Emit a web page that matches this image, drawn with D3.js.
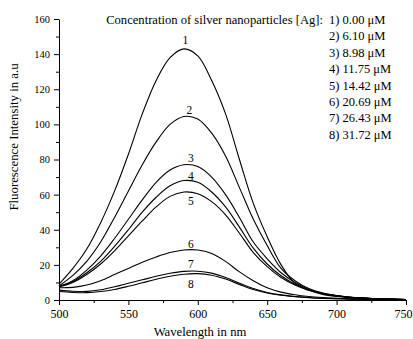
<!DOCTYPE html>
<html lang="en">
<head>
    <meta charset="UTF-8">
    <script src="https://d3js.org/d3.v7.min.js"></script>
    <title>Fluorescence spectra</title>
    <style>
        body { margin: 0; background: #fff; }
        text { font-family: "Liberation Serif", "Times New Roman", serif; fill: #000; }
        .axis path, .axis line { stroke: #000; }
    </style>
</head>
<body>
<div id="chart"></div>
<script>
// Wavelength samples (nm)
const wavelengths = d3.range(500, 751, 10);

// Intensity of each spectrum
const curve1 = [9, 18, 29, 44, 62, 83, 106, 125, 138, 143, 139, 125, 106, 80, 55, 36, 20, 9.5, 5.5, 3.2, 2, 1.3, 0.9, 0.6, 0.4, 0.3];
const curve2 = [8, 14, 22, 33, 47, 62, 77, 90, 100, 104.5, 103, 95, 82, 64, 46, 31, 18, 11, 6.5, 4, 2.5, 1.6, 1.1, 0.7, 0.5, 0.3];
const curve3 = [7.8, 11, 17, 25, 35, 46, 57, 67, 74, 77, 76, 70, 60, 47, 33, 23.5, 15.5, 10, 6, 3.8, 2.5, 1.6, 1.1, 0.7, 0.5, 0.3];
const curve4 = [7.6, 10.5, 15.5, 22, 30.5, 40, 50, 58.5, 65, 68, 67, 61.5, 53, 41.5, 29.5, 20.5, 13.8, 9, 5.8, 3.7, 2.4, 1.6, 1.1, 0.7, 0.5, 0.3];
const curve5 = [7.4, 10, 14.5, 20.5, 28, 36.5, 45, 53, 59, 61.5, 60.5, 56, 48.5, 38, 27, 19, 12.8, 8.5, 5.5, 3.5, 2.3, 1.5, 1.0, 0.7, 0.5, 0.3];
const curve6 = [7, 7.2, 8.5, 11, 14.5, 18, 21.5, 24.5, 27, 28.5, 28.5, 26.5, 22, 16, 11, 7, 4.5, 3, 2, 1.4, 1, 0.7, 0.5, 0.4, 0.3, 0.2];
const curve7 = [5.6, 5.0, 4.9, 5.8, 7.5, 9.5, 11.5, 13.5, 15.2, 16.3, 16.4, 15.3, 12.8, 9.5, 6.5, 4.3, 2.9, 2.0, 1.4, 1.0, 0.8, 0.6, 0.4, 0.3, 0.25, 0.2];
const curve8 = [4.8, 4.3, 4.2, 4.8, 6.0, 7.8, 9.8, 11.8, 13.5, 14.7, 15.0, 14.1, 11.9, 8.9, 6.0, 4.0, 2.7, 1.9, 1.3, 0.9, 0.7, 0.5, 0.4, 0.3, 0.2, 0.2];
const allCurves = [curve1, curve2, curve3, curve4, curve5, curve6, curve7, curve8];

// Curve number labels: position in data units
const labelNames = ["1", "2", "3", "4", "5", "6", "7", "8"];
const labelNm = [591, 594, 595, 595, 595, 595, 595, 595];
const labelVal = [146, 106, 78.5, 68.6, 54.3, 29.5, 18.1, 6.7];

// Legend
const legendTitle = "Concentration of silver nanoparticles [Ag]:";
const legendItems = ["1) 0.00 \u03bcM", "2) 6.10 \u03bcM", "3) 8.98 \u03bcM", "4) 11.75 \u03bcM",
    "5) 14.42 \u03bcM", "6) 20.69 \u03bcM", "7) 26.43 \u03bcM", "8) 31.72 \u03bcM"];

// Ticks
const xMajor = [500, 550, 600, 650, 700, 750];
const xMinor = [525, 575, 625, 675, 725];
const yMajor = [0, 20, 40, 60, 80, 100, 120, 140, 160];
const yMinor = [10, 30, 50, 70, 90, 110, 130, 150];

const W = 413, H = 339;
const margin = { top: 19, right: 7, bottom: 39, left: 59 };

const svg = d3.select("#chart").append("svg")
    .attr("width", W)
    .attr("height", H);

const x = d3.scaleLinear().domain([500, 750]).range([margin.left, W - margin.right]);
const y = d3.scaleLinear().domain([0, 160]).range([H - margin.bottom, margin.top]);

// minor ticks first
svg.append("g")
    .attr("class", "axis")
    .attr("transform", `translate(0,${y(0)})`)
    .call(d3.axisBottom(x).tickValues(xMinor).tickSize(3).tickFormat(""))
    .call(g => g.select(".domain").remove());
svg.append("g")
    .attr("class", "axis")
    .attr("transform", `translate(${x(500)},0)`)
    .call(d3.axisLeft(y).tickValues(yMinor).tickSize(3).tickFormat(""))
    .call(g => g.select(".domain").remove());

// major axes
svg.append("g")
    .attr("class", "axis")
    .attr("transform", `translate(0,${y(0)})`)
    .call(d3.axisBottom(x).tickValues(xMajor).tickSize(5).tickSizeOuter(0).tickPadding(4))
    .call(g => g.selectAll("text").style("font-size", "12px"))
    // keep the last label inside the window
    .call(g => g.selectAll("text").filter(d => d === 750).attr("dx", "-3"));
svg.append("g")
    .attr("class", "axis")
    .attr("transform", `translate(${x(500)},0)`)
    .call(d3.axisLeft(y).tickValues(yMajor).tickSize(5).tickSizeOuter(0).tickPadding(4))
    .call(g => g.selectAll("text").style("font-size", "10.5px"));

// spectra
const line = d3.line()
    .x((d, i) => x(wavelengths[i]))
    .y(d => y(d))
    .curve(d3.curveCatmullRom.alpha(0.5));

svg.append("g")
    .selectAll("path")
    .data(allCurves)
    .enter().append("path")
    .attr("d", line)
    .attr("fill", "none")
    .attr("stroke", "#000")
    .attr("stroke-width", 1.1);

// curve numbers
svg.append("g")
    .selectAll("text")
    .data(labelNames)
    .enter().append("text")
    .attr("x", (d, i) => x(labelNm[i]))
    .attr("y", (d, i) => y(labelVal[i]))
    .attr("text-anchor", "middle")
    .style("font-size", "11.5px")
    .text(d => d);

// legend
svg.append("text")
    .attr("x", 323)
    .attr("y", 24)
    .attr("text-anchor", "end")
    .style("font-size", "12.6px")
    .text(legendTitle);

svg.append("g")
    .selectAll("text")
    .data(legendItems)
    .enter().append("text")
    .attr("x", 329)
    .attr("y", (d, i) => 24 + i * 16.4)
    .style("font-size", "12.5px")
    .text(d => d);

// axis titles
svg.append("text")
    .attr("x", 200)
    .attr("y", 336)
    .attr("text-anchor", "middle")
    .style("font-size", "12.7px")
    .text("Wavelength in nm");

svg.append("text")
    .attr("transform", "translate(18,137) rotate(-90)")
    .attr("text-anchor", "middle")
    .style("font-size", "12.8px")
    .text("Fluorescence Intensity in a.u");
</script>
</body>
</html>
